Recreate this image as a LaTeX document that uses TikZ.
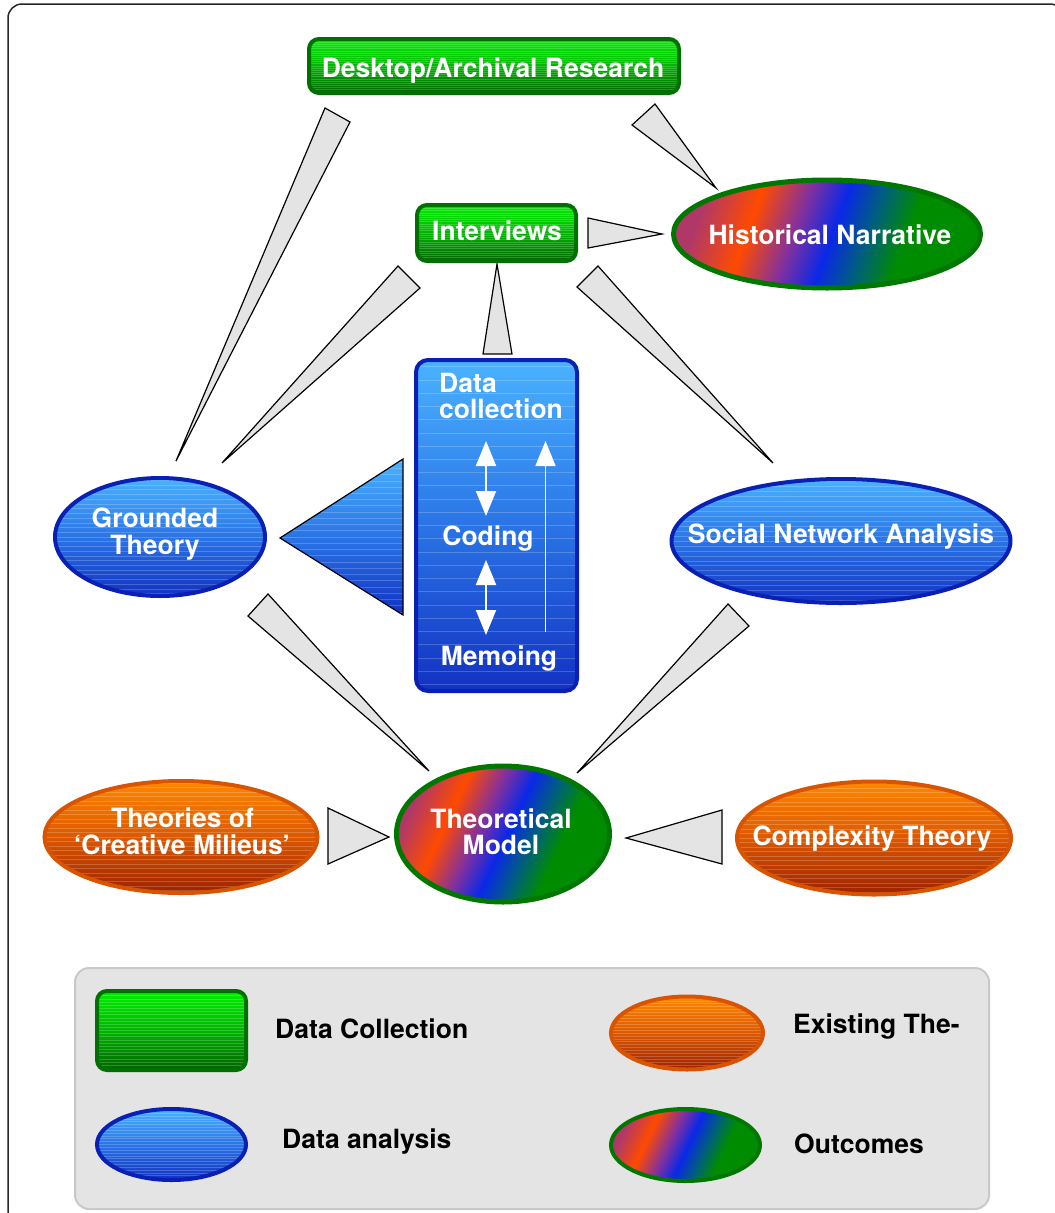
\documentclass[tikz,border=0pt]{standalone}
\usepackage{fontspec}
\setmainfont{TeX Gyre Heros}
\usetikzlibrary{shapes.geometric,arrows.meta,calc}
\definecolor{bTop}{HTML}{4AB2FF}
\definecolor{bMid}{HTML}{2A74E6}
\definecolor{bBot}{HTML}{1232C2}
\definecolor{bBorder}{HTML}{0A20B4}
\definecolor{gTop}{HTML}{00F000}
\definecolor{gMid}{HTML}{00B400}
\definecolor{gBot}{HTML}{006400}
\definecolor{gBorder}{HTML}{007000}
\definecolor{oTop}{HTML}{FF8800}
\definecolor{oMid}{HTML}{DC5800}
\definecolor{oBot}{HTML}{9C2200}
\definecolor{oBorder}{HTML}{D85400}
\definecolor{ocBorder}{HTML}{007800}
\definecolor{ocA}{HTML}{B03868}
\definecolor{ocB}{HTML}{FF4A00}
\definecolor{ocC}{HTML}{8030A0}
\definecolor{ocD}{HTML}{0A28E8}
\definecolor{ocE}{HTML}{00607A}
\definecolor{ocF}{HTML}{008C00}
\definecolor{wedgegray}{HTML}{E4E4E4}
\definecolor{lgray}{HTML}{E4E4E4}
\definecolor{lborder}{HTML}{C8C8C8}
\pgfdeclarehorizontalshading{outcome}{100bp}{color(0bp)=(ocA); color(25bp)=(ocA); color(35bp)=(ocB); color(44bp)=(ocC); color(51bp)=(ocD); color(58bp)=(ocE); color(65bp)=(ocF); color(100bp)=(ocF)}
\tikzset{
  stripes/.style={path picture={\foreach \k in {0.02,0.06,...,0.99}{\draw[white,opacity=0.2,line width=0.7pt] ($(path picture bounding box.south west)!\k!(path picture bounding box.north west)$) -- ($(path picture bounding box.south east)!\k!(path picture bounding box.north east)$);}}},
  bluefill/.style={top color=bTop, bottom color=bBot, middle color=bMid},
  greenfill/.style={top color=gTop, bottom color=gBot, middle color=gMid},
  orangefill/.style={top color=oTop, bottom color=oBot, middle color=oMid},
  bluebox/.style={draw=bBorder, line width=4pt, bluefill, stripes, inner sep=0pt},
  greenbox/.style={draw=gBorder, line width=4pt, rounded corners=10pt, greenfill, stripes, inner sep=0pt},
  blueell/.style={ellipse, draw=bBorder, line width=4pt, bluefill, stripes, inner sep=0pt},
  orangeell/.style={ellipse, draw=oBorder, line width=4pt, orangefill, stripes, inner sep=0pt},
  outell/.style={ellipse, draw=ocBorder, line width=5pt, shading=outcome, shading angle=-20, inner sep=0pt},
  wtxt/.style={text=white, font=\fontsize{26.5}{27}\selectfont\bfseries, inner sep=0pt, anchor=base},
  ktxt/.style={text=black, font=\fontsize{26.5}{27}\selectfont\bfseries, inner sep=0pt, anchor=base west},
  wedge/.style={fill=wedgegray, draw=black, line width=1.2pt, line join=miter},
  bigtip/.style={line width=2pt, white, {Triangle[width=20pt,length=25pt]}-{Triangle[width=20pt,length=25pt]}},
  uptip/.style={line width=1.6pt, white, -{Triangle[width=20pt,length=25pt]}}
}
\begin{document}
\begin{tikzpicture}[x=1pt,y=-1pt]
\useasboundingbox (0,0) rectangle (1055,1213);
\draw[line width=1.5pt, rounded corners=14pt, black!85] (8,4) rectangle (1064,1224);

% wedges (drawn first)
\draw[wedge] (325,108) -- (350,122) -- (176,461) -- cycle;
\draw[wedge] (632,125) -- (655,104) -- (716,188) -- cycle;
\draw[wedge] (588,218) -- (588,248) -- (662,234) -- cycle;
\draw[wedge] (398,266) -- (420,288) -- (222,463) -- cycle;
\draw[wedge] (483,354) -- (512,354) -- (497,264) -- cycle;
\draw[wedge] (577,287) -- (598,266) -- (773,463) -- cycle;
\draw[wedge] (248,616) -- (268,594) -- (429,771) -- cycle;
\draw[wedge] (749,626) -- (728,604) -- (577,773) -- cycle;
\draw[wedge] (328,808) -- (328,864) -- (389,837) -- cycle;
\draw[wedge] (722,810) -- (722,864) -- (626,838) -- cycle;
\draw[bluefill, stripes, draw=black, line width=1.2pt, line join=miter] (403,459) -- (403,615) -- (280,538) -- cycle;

% data collection nodes
\node[greenbox, minimum width=370pt, minimum height=54pt] (desk) at (494,66) {};
\node[wtxt] (deskt) at (493,77) {Desktop/Archival Research};
\node[greenbox, minimum width=159pt, minimum height=56pt] (int) at (496.5,233) {};
\node[wtxt] (intt) at (497,240.5) {Interviews};

% outcomes
\node[outell, minimum width=307pt, minimum height=108pt] (hist) at (827,234) {};
\node[wtxt] (histt) at (830,244) {Historical Narrative};
\node[outell, minimum width=213pt, minimum height=136pt, shading angle=-25] (tm) at (503,834) {};
\node[wtxt] (tmt1) at (501,828) {Theoretical};
\node[wtxt] (tmt2) at (501,854) {Model};

% analysis
\node[bluebox, rounded corners=12pt, minimum width=161pt, minimum height=331pt] (dc) at (496.5,525.5) {};
\node[wtxt, anchor=base west] (dct1) at (439,392) {Data};
\node[wtxt, anchor=base west] (dct2) at (439,418) {collection};
\node[wtxt] (cod) at (488,545) {Coding};
\node[wtxt] (mem) at (499,665) {Memoing};
\coordinate (a1) at (486,441);
\coordinate (a2) at (486,516);
\coordinate (a3) at (486,560);
\coordinate (a4) at (486,635);
\coordinate (a5) at (545.5,632);
\coordinate (a6) at (545.5,441);
\draw[bigtip] (a1) -- (a2);
\draw[bigtip] (a3) -- (a4);
\draw[uptip] (a5) -- (a6);

\node[blueell, minimum width=210pt, minimum height=118pt] (gt) at (160,537) {};
\node[wtxt] (gtt1) at (155,527.5) {Grounded};
\node[wtxt] (gtt2) at (155,554) {Theory};
\node[blueell, minimum width=339pt, minimum height=124pt] (sna) at (841,541) {};
\node[wtxt] (snat) at (841,543.5) {Social Network Analysis};

% existing theories
\node[orangeell, minimum width=273pt, minimum height=112pt] (cm) at (181,837) {};
\node[wtxt] (cmt1) at (182.5,827) {Theories of};
\node[wtxt] (cmt2) at (182,854) {‘Creative Milieus’};
\node[orangeell, minimum width=274pt, minimum height=113pt] (ct) at (874,838) {};
\node[wtxt] (ctt) at (872,845) {Complexity Theory};

% legend
\draw[fill=lgray, draw=lborder, line width=2pt, rounded corners=14pt] (75,968) rectangle (989,1209);
\node[greenbox, minimum width=149pt, minimum height=79pt] (lg1) at (171.5,1030.5) {};
\node[ktxt] (lg1t) at (275,1038) {Data Collection};
\node[blueell, minimum width=149pt, minimum height=71pt] (lg2) at (171.5,1144.5) {};
\node[ktxt] (lg2t) at (282,1148) {Data analysis};
\node[orangeell, minimum width=152pt, minimum height=73pt] (lg3) at (687,1033) {};
\node[ktxt] (lg3t) at (793,1033) {Existing The-};
\node[outell, minimum width=149pt, minimum height=72pt, line width=4pt, shading angle=-25] (lg4) at (685.5,1145) {};
\node[ktxt] (lg4t) at (794,1153) {Outcomes};
\end{tikzpicture}
\end{document}
